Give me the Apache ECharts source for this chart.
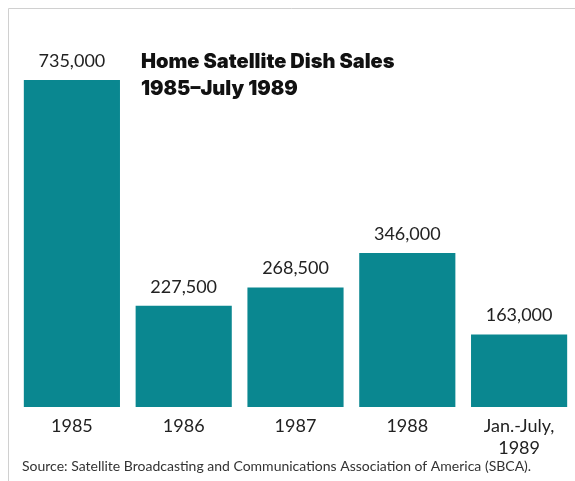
<!DOCTYPE html>
<html><head><meta charset="utf-8">
<script src="https://cdn.jsdelivr.net/npm/echarts@6/dist/echarts.min.js"></script>
<style>html,body{margin:0;padding:0;background:#fff}#c{width:575px;height:481px}</style>
</head><body><div id="c"></div>
<script>
const categories = ['1985', '1986', '1987', '1988', 'Jan.-July,\n1989'];
const sales = [735000, 227500, 268500, 346000, 163000];
const valueLabels = ['735,000', '227,500', '268,500', '346,000', '163,000'];

const chart = echarts.init(document.getElementById('c'), null, {renderer: 'canvas'});
chart.setOption({
  backgroundColor: '#fff',
  animation: false,
  grid: {left: 16, right: -1, top: 80, bottom: 74},
  xAxis: {
    type: 'category', data: categories,
    axisLine: {show: false}, axisTick: {show: false},
    axisLabel: {margin: 8, fontFamily: 'Lato', fontSize: 18, color: '#222', lineHeight: 22}
  },
  yAxis: {
    type: 'value', min: 0, max: 735000, show: false,
    splitLine: {show: false}
  },
  series: [{
    type: 'bar', data: sales, barCategoryGap: '14%',
    itemStyle: {color: '#0a8790'},
    label: {
      show: true, position: 'top', distance: 10,
      fontFamily: 'Lato', fontSize: 18, color: '#222',
      formatter: p => valueLabels[p.dataIndex]
    }
  }],
  graphic: [
    {type: 'line', shape: {x1: 8.5, y1: 8.5, x2: 575, y2: 8.5}, style: {stroke: '#d0d0d0', lineWidth: 1}},
    {type: 'line', shape: {x1: 8.5, y1: 8.5, x2: 8.5, y2: 481}, style: {stroke: '#d0d0d0', lineWidth: 1}},
    {type: 'text', left: 141, top: 48, style: {text: 'Home Satellite Dish Sales\n1985\u2013July 1989', fontFamily: 'Inter', fontWeight: 900, fontSize: 20, lineHeight: 27, fill: '#111'}},
    {type: 'text', left: 22, top: 459, style: {text: 'Source: Satellite Broadcasting and Communications Association of America (SBCA).', fontFamily: 'Lato', fontSize: 14, fill: '#333'}}
  ]
});
</script></body></html>
